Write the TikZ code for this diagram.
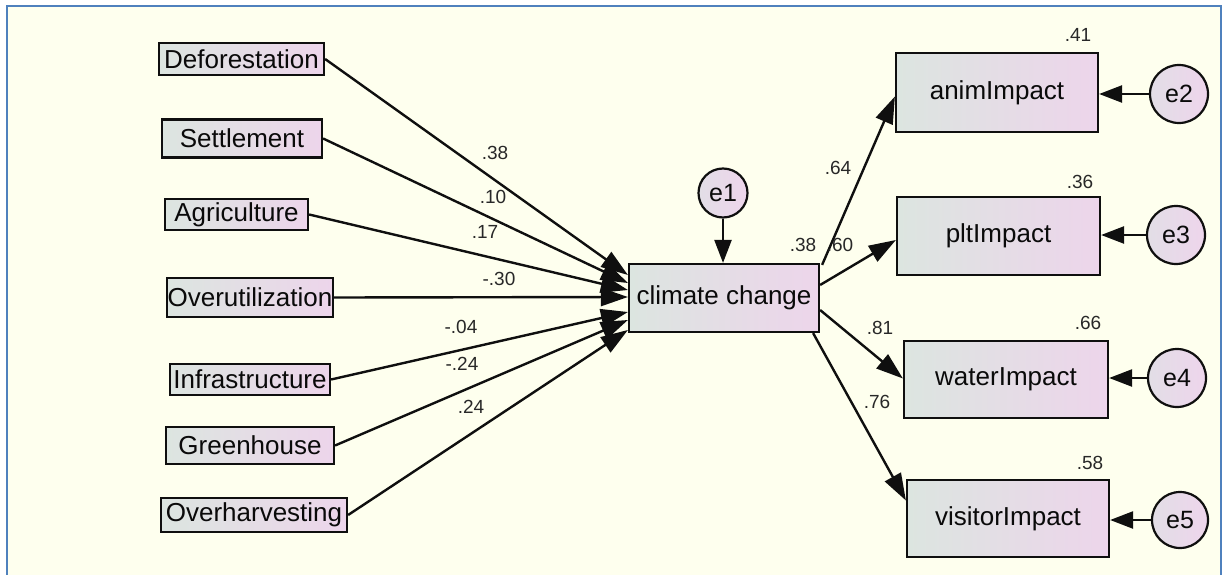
\documentclass[tikz,border=0pt]{standalone}
\usepackage{fontspec}
\setmainfont{Liberation Sans}
\usetikzlibrary{arrows.meta}

\definecolor{paper}{RGB}{254,255,238}
\definecolor{frame}{RGB}{79,129,189}
\definecolor{ink}{RGB}{15,15,15}
\definecolor{txt}{RGB}{10,10,10}
\definecolor{coeftxt}{RGB}{40,40,40}
\definecolor{boxL}{RGB}{220,229,224}
\definecolor{boxR}{RGB}{237,213,235}
\definecolor{errL}{RGB}{226,222,230}
\definecolor{errR}{RGB}{238,213,236}

\begin{document}
\begin{tikzpicture}[x=1pt,y=-1pt,
  var/.style={draw=ink, line width=2.2pt, left color=boxL, right color=boxR,
    inner sep=0pt, font=\fontsize{26}{28}\selectfont, text=txt},
  err/.style={circle, draw=ink, line width=2.2pt, left color=errL, right color=errR,
    inner sep=0pt, font=\fontsize{25}{28}\selectfont, text=txt},
  reg/.style={draw=ink, line width=2.4pt, -{Triangle[length=27pt,width=18pt]}},
  res/.style={draw=ink, line width=2.4pt, -{Triangle[length=23pt,width=17pt]}},
  coef/.style={font=\fontsize{19}{21}\selectfont, text=coeftxt, inner sep=0pt}
]
% canvas and frame
\useasboundingbox (0,0) rectangle (1228,575);
\fill[white] (0,0) rectangle (1228,575);
\fill[paper] (7,6) rectangle (1221,575);
\draw[frame, line width=2.6pt] (7,575) -- (7,6) -- (1221,6) -- (1221,575);

% exogenous predictors
\node[var, minimum width=165pt, minimum height=32pt] (def) at (241.5,59)  {Deforestation};
\node[var, minimum width=160pt, minimum height=38pt] (set) at (242,138.5) {Settlement};
\node[var, minimum width=143pt, minimum height=31pt] (agr) at (236.5,214.5) {Agriculture};
\node[var, minimum width=166pt, minimum height=39pt] (ovu) at (250,297.5) {Overutilization};
\node[var, minimum width=160pt, minimum height=31pt] (inf) at (250,379.5) {Infrastructure};
\node[var, minimum width=168pt, minimum height=37pt] (gre) at (250,445.5) {Greenhouse};
\node[var, minimum width=186pt, minimum height=34pt] (ovh) at (254,515)   {Overharvesting};

% mediator
\node[var, minimum width=190pt, minimum height=68pt] (cc) at (724,298) {climate change};
\node[err, minimum size=49pt] (e1) at (723,193) {e1};

% outcomes
\node[var, minimum width=202pt, minimum height=79pt] (anim) at (997,92.5)   {animImpact};
\node[var, minimum width=203pt, minimum height=78pt] (plt)  at (998.5,236)  {pltImpact};
\node[var, minimum width=204pt, minimum height=77pt] (wat)  at (1006,379.5) {waterImpact};
\node[var, minimum width=202pt, minimum height=77pt] (vis)  at (1008,518.5) {visitorImpact};

\node[err, minimum size=58pt] (e2) at (1179,94)  {e2};
\node[err, minimum size=58pt] (e3) at (1176,235) {e3};
\node[err, minimum size=58pt] (e4) at (1177,378) {e4};
\node[err, minimum size=56pt] (e5) at (1180,520) {e5};

% paths into climate change
\draw[reg] (def.east) -- ([yshift=23pt]cc.west);
\draw[reg] (set.east) -- ([yshift=15pt]cc.west);
\draw[reg] (agr.east) -- ([yshift=8pt]cc.west);
\draw[reg] (ovu.east) -- ([yshift=1pt]cc.west);
\draw[reg] (inf.east) -- ([yshift=-14pt]cc.west);
\draw[reg] (gre.east) -- ([yshift=-22pt]cc.west);
\draw[reg] (ovh.east) -- ([yshift=-32pt]cc.west);
\draw[res] (e1) -- (cc.north -| e1);

% paths out of climate change
\draw[reg] ([xshift=2pt,yshift=-2pt]cc.north east) -- ([yshift=-4pt]anim.west);
\draw[reg] ([yshift=13pt]cc.east) -- ([yshift=-4pt]plt.west);
\draw[reg] ([yshift=-12pt]cc.east) -- ([yshift=1pt]wat.west);
\draw[reg] ([xshift=-7pt]cc.south east) -- ([yshift=18pt]vis.west);

% residuals of outcomes
\draw[res] (e2) -- (anim.east |- e2);
\draw[res] (e3) -- (plt.east |- e3);
\draw[res] (e4) -- (wat.east |- e4);
\draw[res] (e5) -- (vis.east |- e5);

% standardized estimates
\node[coef] (c1) at (495,153) {.38};
\node[coef] (c2) at (493,197) {.10};
\node[coef] (c3) at (485,232) {.17};
\node[coef] (c4) at (499,279) {-.30};
\node[coef] (c5) at (461,327) {-.04};
\node[coef] (c6) at (462,364) {-.24};
\node[coef] (c7) at (471,407) {.24};
\node[coef] (r0) at (803,245) {.38};
\node[coef] (c8) at (838,168) {.64};
\node[coef] (c9) at (840,245) {.60};
\node[coef] (c10) at (880,328) {.81};
\node[coef] (c11) at (877,402) {.76};
\node[coef] (r1) at (1078,35)  {.41};
\node[coef] (r2) at (1080,182) {.36};
\node[coef] (r3) at (1088,323) {.66};
\node[coef] (r4) at (1090,463) {.58};
\end{tikzpicture}
\end{document}
